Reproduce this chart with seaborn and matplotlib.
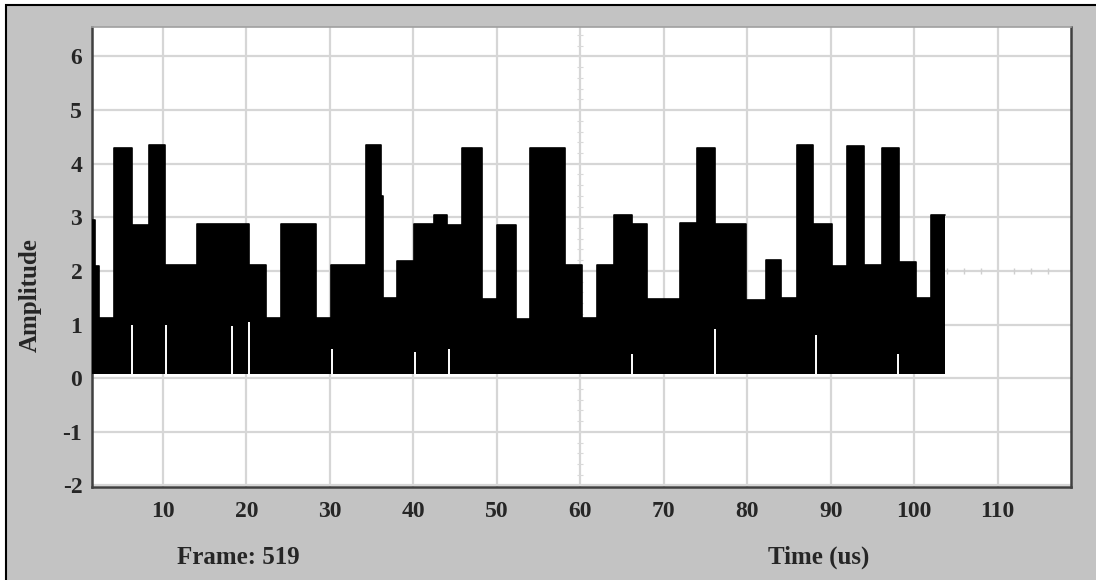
import numpy as np
import pandas as pd
import matplotlib
matplotlib.use("Agg")
import matplotlib.pyplot as plt
import seaborn as sns
from matplotlib.patches import Rectangle

# ---- data ----
# envelope of the burst: step edges (us) and upper level of each step
edges = [1.55, 1.9, 2.35, 4.13, 6.25, 8.33, 10.3, 14.1, 20.3, 22.3,
         24.1, 28.3, 30.1, 34.3, 36.1, 36.4, 38.1, 40.1, 42.5, 44.0,
         45.8, 48.2, 50.0, 52.3, 54.0, 58.2, 60.2, 62.0, 64.0, 66.2,
         68.0, 72.0, 74.0, 76.2, 79.8, 82.2, 84.0, 86.0, 87.9, 90.2,
         92.0, 94.0, 96.2, 98.2, 100.2, 102.0, 103.7]
levels = [2.95, 2.1, 1.12, 4.3, 2.85, 4.35, 2.12, 2.88, 2.12, 1.12,
          2.88, 1.12, 2.12, 4.35, 3.4, 1.5, 2.18, 2.88, 3.05, 2.85,
          4.3, 1.48, 2.85, 1.1, 4.3, 2.12, 1.12, 2.12, 3.05, 2.88,
          1.47, 2.9, 4.3, 2.87, 1.45, 2.2, 1.5, 4.35, 2.87, 2.1,
          4.33, 2.12, 4.3, 2.16, 1.5, 3.05]
baseline = 0.07
# narrow gaps (white slits) in the lower part of the burst
dip_t = [6.33, 10.32, 18.31, 20.3, 30.3, 40.26, 44.25, 66.2, 76.2, 88.2, 98.1]
dip_top = [1.0, 1.0, 0.98, 1.05, 0.55, 0.49, 0.55, 0.46, 0.92, 0.8, 0.46]

x_ticks = [10, 20, 30, 40, 50, 60, 70, 80, 90, 100, 110]
y_ticks = [-2, -1, 0, 1, 2, 3, 4, 5, 6]
x_label = "Time (us)"
y_label = "Amplitude"
frame_text = "Frame: 519"

# ---- style ----
sns.set_style("white")
plt.rcParams['font.family'] = ['Liberation Serif', 'DejaVu Serif']
plt.rcParams['font.weight'] = 'bold'

W, H = 1096, 580
fig = plt.figure(figsize=(W / 100, H / 100), dpi=100, facecolor='white')
fig.patches.append(Rectangle((6 / W, -0.02), 1.05, 1 - 5 / H + 0.02,
                             transform=fig.transFigure, facecolor='#c3c3c3',
                             edgecolor='black', lw=1.5, zorder=-10))

ax = fig.add_axes([92 / W, 1 - 487 / H, (1071 - 92) / W, (487 - 27) / H])
ax.set_facecolor('white')

df = pd.DataFrame({'t': edges, 'amp': levels + [levels[-1]]})
ax.fill_between(df['t'], baseline, df['amp'], step='post', color='black',
                lw=0, zorder=3)
sns.lineplot(data=df, x='t', y='amp', drawstyle='steps-post', color='black',
             lw=1.2, estimator=None, ax=ax, zorder=3)
ax.vlines(dip_t, baseline, dip_top, color='white', lw=1.4, zorder=4)

# scope graticule minor marks
gy = np.arange(-2.0, 6.6, 0.2)
ax.plot(np.full_like(gy, 60), gy, ls='none', marker='_', ms=5, mew=0.8,
        color='#d9d9d9', zorder=1)
gx = [104, 106, 108, 112, 114, 116]
ax.plot(gx, np.full(len(gx), 2.0), ls='none', marker='|', ms=5, mew=1.0,
        color='#cfcfcf', zorder=1)

ax.set_xlim(1.5, 118.8)
ax.set_ylim(-2.03, 6.55)
ax.set_xticks(x_ticks)
ax.set_yticks(y_ticks)
ax.set_xticklabels([str(v) for v in x_ticks], fontsize=17, fontweight='bold')
ax.set_yticklabels([str(v) for v in y_ticks], fontsize=17, fontweight='bold')
ax.tick_params(axis='x', length=0, pad=10)
ax.tick_params(axis='y', length=0, pad=7)
ax.grid(True, color='#d6d6d6', lw=1.6, zorder=0)
ax.set_axisbelow(True)
ax.set_xlabel('')
ax.set_ylabel('')
for side in ['left', 'bottom', 'right']:
    ax.spines[side].set_color('#404040')
    ax.spines[side].set_linewidth(1.8)
ax.spines['top'].set_color('#a0a0a0')
ax.spines['top'].set_linewidth(1.2)

fig.text(30 / W, 1 - 295 / H, y_label, rotation=90, ha='center', va='center',
         fontsize=18, fontweight='bold')
fig.text(238 / W, 1 - 557 / H, frame_text, ha='center', va='center',
         fontsize=18, fontweight='bold')
fig.text(819 / W, 1 - 557 / H, x_label, ha='center', va='center',
         fontsize=18, fontweight='bold')

fig.savefig('out.png', dpi=100, facecolor=fig.get_facecolor())
